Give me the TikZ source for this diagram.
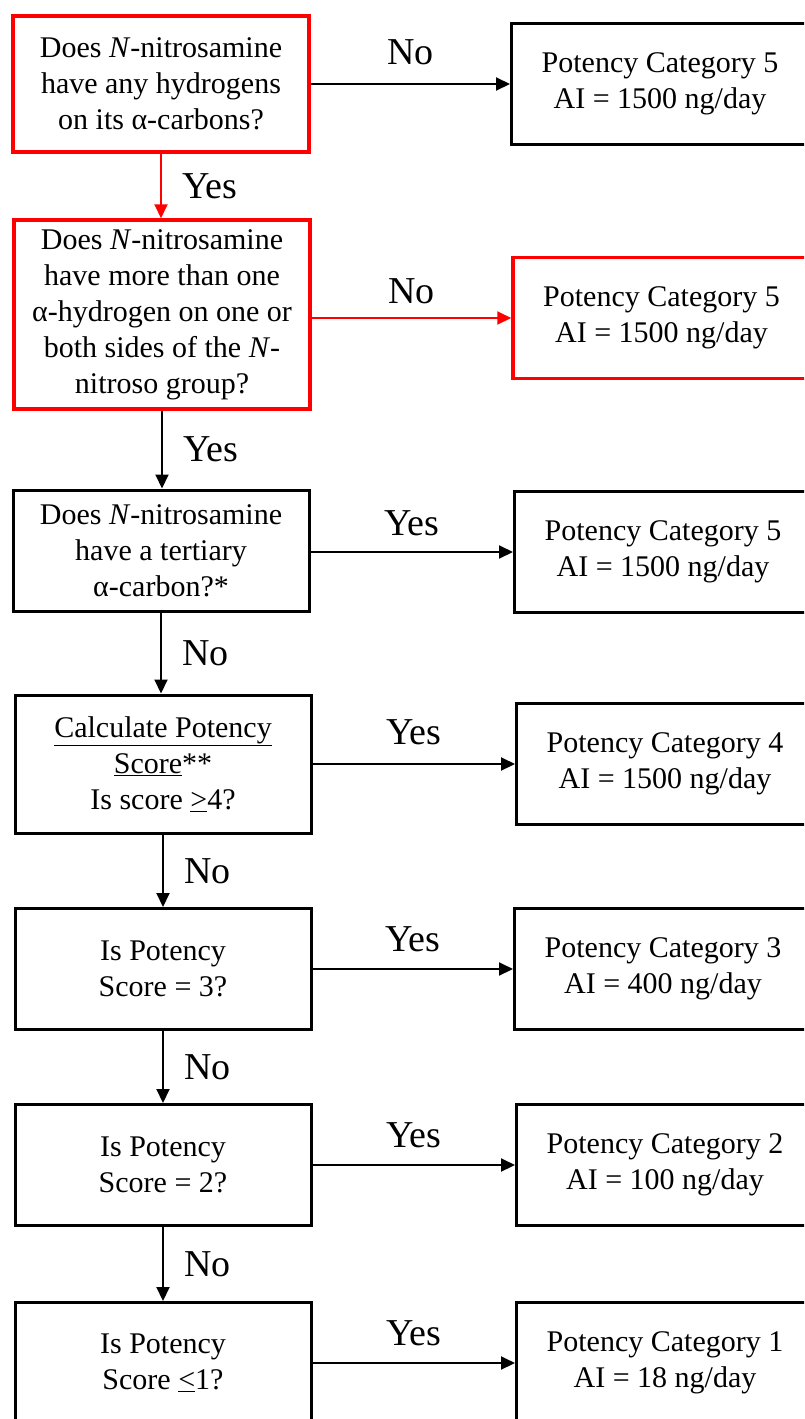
\documentclass[tikz,border=0pt]{standalone}
\usepackage{fontspec}
\setmainfont{Liberation Serif}
\usetikzlibrary{arrows.meta,calc}
\newcommand{\ulx}[1]{\underline{\smash{#1}\vphantom{g}}}
\begin{document}
\begin{tikzpicture}[x=1pt,y=-1pt,
  qbox/.style={draw=black, line width=3pt, minimum width=296pt, minimum height=121pt,
    align=center, font=\fontsize{30}{36}\selectfont, inner sep=0pt},
  rbox/.style={qbox, minimum width=297pt},
  redb/.style={draw=red, line width=3.5pt},
  arr/.style={line width=2pt, -{Triangle[length=14pt,width=13pt]}},
  redarr/.style={arr, red},
  lbl/.style={font=\fontsize{38}{44}\selectfont, inner sep=0pt, text=black},
  hl/.style={lbl, anchor=base},
  vl/.style={lbl, anchor=west, xshift=20pt}
]
\useasboundingbox (0,0) rectangle (804,1419);
\clip (0,0) rectangle (804,1419);
\fill[white] (0,0) rectangle (804,1419);

% left question boxes
\node[qbox, redb, minimum height=136pt] (L1) at (161,84)
  {Does \textit{N}-nitrosamine\\have any hydrogens\\on its α-carbons?};
\node[qbox, redb, minimum height=189pt] (L2) at (162,314.5)
  {Does \textit{N}-nitrosamine\\have more than one\\α-hydrogen on one or\\both sides of the \textit{N}-\\nitroso group?};
\node[qbox] (L3) at (161,550.5)
  {Does \textit{N}-nitrosamine\\have a tertiary\\α-carbon?*};
\node[qbox, minimum height=138pt] (L4) at (163,764)
  {\underline{Calculate Potency}\\\underline{Score}**\\Is score \underline{>}4?};
\node[qbox] (L5) at (163,969)
  {Is Potency\\Score = 3?};
\node[qbox] (L6) at (163,1165)
  {Is Potency\\Score = 2?};
\node[qbox] (L7) at (163,1363)
  {Is Potency\\Score \underline{<}1?};

% right result boxes
\node[rbox] (R1) at (660,84) {Potency Category 5\\AI = 1500 ng/day};
\node[rbox, redb] (R2) at (661.5,318) {Potency Category 5\\AI = 1500 ng/day};
\node[rbox] (R3) at (663,552) {Potency Category 5\\AI = 1500 ng/day};
\node[rbox] (R4) at (665,764) {Potency Category 4\\AI = 1500 ng/day};
\node[rbox] (R5) at (663,969) {Potency Category 3\\AI = 400 ng/day};
\node[rbox] (R6) at (665,1165) {Potency Category 2\\AI = 100 ng/day};
\node[rbox] (R7) at (665,1363) {Potency Category 1\\AI = 18 ng/day};

% horizontal connectors
\draw[arr] (R1.west -| L1.east) -- node[hl, yshift=20pt]{No} (R1.west);
\draw[redarr] (R2.west -| L2.east) -- node[hl, yshift=15pt]{No} (R2.west);
\draw[arr] (R3.west -| L3.east) -- node[hl, yshift=17pt]{Yes} (R3.west);
\draw[arr] (R4.west -| L4.east) -- node[hl, yshift=20pt]{Yes} (R4.west);
\draw[arr] (R5.west -| L5.east) -- node[hl, yshift=18pt]{Yes} (R5.west);
\draw[arr] (R6.west -| L6.east) -- node[hl, yshift=18pt]{Yes} (R6.west);
\draw[arr] (R7.west -| L7.east) -- node[hl, yshift=18pt]{Yes} (R7.west);

% vertical connectors
\draw[redarr] (L1.south) -- node[vl]{Yes} (L1.south |- L2.north);
\draw[arr] (L2.south) -- node[vl]{Yes} (L2.south |- L3.north);
\draw[arr] (L3.south) -- node[vl]{No} (L3.south |- L4.north);
\draw[arr] (L4.south) -- node[vl]{No} (L4.south |- L5.north);
\draw[arr] (L5.south) -- node[vl]{No} (L5.south |- L6.north);
\draw[arr] (L6.south) -- node[vl]{No} (L6.south |- L7.north);
\end{tikzpicture}
\end{document}
